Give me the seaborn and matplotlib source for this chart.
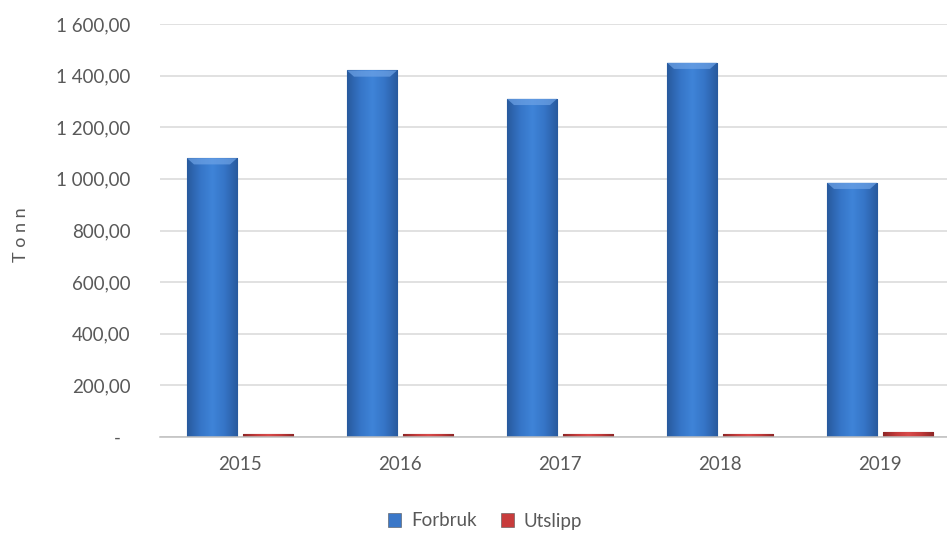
import numpy as np
import pandas as pd
import matplotlib
matplotlib.use("Agg")
import matplotlib.pyplot as plt
from matplotlib.patches import Patch
from matplotlib.ticker import FuncFormatter, MultipleLocator
from matplotlib.colors import LinearSegmentedColormap
import seaborn as sns

# Yearly consumption and emissions, in tonnes
years = ["2015", "2016", "2017", "2018", "2019"]
forbruk = [1080, 1420, 1310, 1450, 985]
utslipp = [10, 10, 10, 10, 18]
series_names = ["Forbruk", "Utslipp"]

df = pd.DataFrame({
    "År": years * 2,
    "Tonn": forbruk + utslipp,
    "Serie": [series_names[0]] * len(years) + [series_names[1]] * len(years),
})

sns.set_theme(style="white")
plt.rcParams["font.family"] = ["Lato", "DejaVu Sans"]
text_color = "#595959"

W, H = 947, 536
fig = plt.figure(figsize=(W / 100, H / 100), dpi=100)
# plot area in pixels: x 160..960 (clipped by image edge), y 24..437
ax = fig.add_axes([160 / W, (H - 437) / H, 800 / W, 413 / H])

colors = {"Forbruk": "#3a77c8", "Utslipp": "#c83c3c"}
sns.barplot(data=df, x="År", y="Tonn", hue="Serie", hue_order=series_names,
            palette=colors, width=0.7, gap=0.107, ax=ax, legend=False,
            saturation=1, zorder=3)

ax.set_ylim(0, 1600)
ax.set_xlim(-0.5, 4.5)
ax.yaxis.set_major_locator(MultipleLocator(200))


def nok_fmt(v, _):
    if abs(v) < 1e-9:
        return "-  "
    s = f"{v:,.2f}"
    return s.replace(",", " ").replace(".", ",")


ax.yaxis.set_major_formatter(FuncFormatter(nok_fmt))
ax.grid(axis="y", color="#d9d9d9", linewidth=1.1, zorder=0)
ax.grid(axis="x", visible=False)
for side in ["top", "right", "left"]:
    ax.spines[side].set_visible(False)
ax.spines["bottom"].set_color("#bfbfbf")
ax.spines["bottom"].set_linewidth(1.1)
ax.spines["bottom"].set_zorder(4)

ax.tick_params(axis="y", length=0, pad=21, labelsize=13.5, labelcolor=text_color)
ax.tick_params(axis="x", length=0, pad=14, labelsize=13.5, labelcolor=text_color)
ax.set_xlabel("")
ax.set_ylabel("")
fig.text(21 / W, 1 - 235 / H, "T o n n", rotation=90, ha="center", va="center",
         fontsize=13, color=text_color)

# shaded, bevelled look for the bars
grads = {
    "Forbruk": LinearSegmentedColormap.from_list(
        "b", ["#285a9e", "#3574c6", "#3f84d8", "#3574c6", "#285a9e"]),
    "Utslipp": LinearSegmentedColormap.from_list(
        "r", ["#8f2626", "#c23a3a", "#d84a4a", "#c23a3a", "#8f2626"]),
}
grad = np.linspace(0, 1, 64).reshape(1, -1)
n = len(years)
for i, bar in enumerate(ax.patches[: 2 * n]):
    name = series_names[i // n]
    x0, y0 = bar.get_x(), bar.get_y()
    w, h = bar.get_width(), bar.get_height()
    bar.set_edgecolor("#214c88" if name == "Forbruk" else "#8a2424")
    bar.set_linewidth(0.8)
    im = ax.imshow(grad, cmap=grads[name], aspect="auto",
                   extent=[x0, x0 + w, y0, y0 + h], zorder=3.5,
                   interpolation="bicubic")
    im.set_clip_path(bar)
    # light bevel strip along the top
    if h > 100:
        top = plt.Polygon([[x0, y0 + h], [x0 + w, y0 + h],
                           [x0 + w * 0.86, y0 + h - 24], [x0 + w * 0.14, y0 + h - 24]],
                          closed=True, facecolor="#6ea3e6", edgecolor="none",
                          alpha=0.7, zorder=3.6)
        ax.add_patch(top)

ax.set_xlim(-0.5, 4.5)
ax.set_ylim(0, 1600)

handles = [Patch(facecolor=colors[s], edgecolor="#555555", linewidth=0.4) for s in series_names]
fig.legend(handles, series_names, loc="center", bbox_to_anchor=(485 / W, 1 - 521 / H),
           ncol=2, frameon=False, fontsize=13.5, labelcolor=text_color,
           handlelength=0.7, handleheight=0.7, handletextpad=0.5, columnspacing=1.3)

fig.savefig("out.png", dpi=100, facecolor="white")
